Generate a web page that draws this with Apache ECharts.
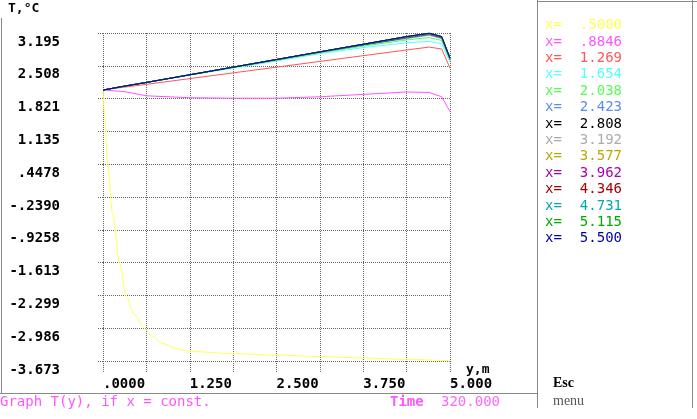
<!DOCTYPE html>
<html>
<head>
<meta charset="utf-8">
<script src="https://cdn.jsdelivr.net/npm/echarts@6/dist/echarts.min.js"></script>
<style>
  html, body { margin: 0; padding: 0; background: #fff; }
  #chart { width: 697px; height: 419px; }
</style>
</head>
<body>
<div id="chart"></div>
<script>
// legend names (x values) and their colours
const xNames = ['.5000', '.8846', '1.269', '1.654', '2.038', '2.423', '2.808', '3.192', '3.577', '3.962', '4.346', '4.731', '5.115', '5.500'];
const lineColors = ['#ffff55', '#ff55ff', '#ff5555', '#55ffff', '#55ff55', '#5b8cf0', '#000000', '#aaaaaa', '#b8a800', '#aa00aa', '#aa0000', '#00aaaa', '#00aa00', '#0000aa'];

// axis tick labels
const xTickLabels = ['.0000', '1.250', '2.500', '3.750', '5.000'];
const yTickLabels = ['-3.673', '-2.986', '-2.299', '-1.613', '-.9258', '-.2390', '.4478', '1.135', '1.821', '2.508', '3.195'];

// x = .5000 needs finer y positions near the wall
const yFine = [0, 0.022, 0.065, 0.137, 0.238, 0.339, 0.45, 0.59, 0.7, 0.85, 1.06, 1.25, 1.875, 2.5, 3.125, 3.75, 4.375, 5.0];
const tX0500 = [2.00, 1.52, 0.47, -0.57, -1.62, -2.33, -2.70, -2.98, -3.15, -3.30, -3.42, -3.47, -3.52, -3.55, -3.58, -3.61, -3.64, -3.67];

// the other curves share these y positions
const yCoarse = [0, 0.3, 0.625, 1.25, 1.875, 2.5, 3.125, 3.75, 4.375, 4.7, 4.88, 5.0];
const tX0885 = [2.00, 1.97, 1.88, 1.84, 1.83, 1.83, 1.86, 1.91, 1.96, 1.95, 1.86, 1.55];
const tX1269 = [2.00, 2.06, 2.12, 2.24, 2.36, 2.48, 2.60, 2.72, 2.84, 2.90, 2.86, 2.46];
const tX1654 = [2.00, 2.08, 2.16, 2.31, 2.46, 2.61, 2.76, 2.89, 2.99, 3.02, 2.97, 2.58];
const tX2038 = [2.00, 2.08, 2.16, 2.32, 2.47, 2.62, 2.78, 2.92, 3.05, 3.10, 3.04, 2.62];
const tX2423 = [2.00, 2.08, 2.16, 2.32, 2.48, 2.63, 2.79, 2.94, 3.08, 3.15, 3.08, 2.64];
const tX2808 = [2.00, 2.08, 2.16, 2.32, 2.48, 2.64, 2.80, 2.95, 3.10, 3.17, 3.10, 2.66];
const tX3192 = [2.00, 2.08, 2.16, 2.32, 2.48, 2.64, 2.80, 2.96, 3.11, 3.18, 3.11, 2.66];
const tX3577 = [2.00, 2.08, 2.16, 2.32, 2.48, 2.64, 2.80, 2.96, 3.11, 3.18, 3.11, 2.66];
const tX3962 = [2.00, 2.08, 2.16, 2.32, 2.48, 2.64, 2.80, 2.96, 3.12, 3.19, 3.11, 2.67];
const tX4346 = [2.00, 2.08, 2.16, 2.32, 2.48, 2.64, 2.80, 2.96, 3.12, 3.19, 3.12, 2.67];
const tX4731 = [2.00, 2.08, 2.16, 2.32, 2.48, 2.64, 2.80, 2.96, 3.12, 3.19, 3.12, 2.67];
const tX5115 = [2.00, 2.08, 2.16, 2.32, 2.48, 2.64, 2.80, 2.96, 3.12, 3.19, 3.12, 2.67];
const tX5500 = [2.00, 2.08, 2.16, 2.32, 2.48, 2.64, 2.80, 2.96, 3.12, 3.19, 3.12, 2.67];

const coarseCurves = [tX0885, tX1269, tX1654, tX2038, tX2423, tX2808, tX3192, tX3577, tX3962, tX4346, tX4731, tX5115, tX5500];

const yMin = -3.673, yMax = 3.195, yStep = 0.6868;
const xMin = 0, xMax = 5, xStep = 0.625;
const mono = '"DejaVu Sans Mono", "Liberation Mono", monospace';

const chart = echarts.init(document.getElementById('chart'), null, { renderer: 'canvas' });

const series = [{
  name: xNames[0], type: 'line', data: yFine.map((y, i) => [y, tX0500[i]]),
  showSymbol: false, smooth: 0.3, smoothMonotone: 'x',
  lineStyle: { width: 1, color: lineColors[0] }, itemStyle: { color: lineColors[0] },
}];
coarseCurves.forEach((arr, k) => {
  series.push({
    name: xNames[k + 1], type: 'line', data: yCoarse.map((y, i) => [y, arr[i]]),
    showSymbol: false, smooth: false,
    lineStyle: { width: 1, color: lineColors[k + 1] }, itemStyle: { color: lineColors[k + 1] },
  });
});

const dotted = { color: '#666', type: 'dotted', width: 1 };

chart.setOption({
  backgroundColor: '#ffffff',
  animation: false,
  grid: { left: 103, right: 247, top: 33, bottom: 58, containLabel: false, outerBoundsMode: 'none' },
  legend: {
    orient: 'vertical', left: 540, top: 17.5, padding: 0,
    icon: 'none', itemWidth: 0, itemHeight: 10, itemGap: 0.4,
    selectedMode: false,
    data: xNames.map((n, i) => ({ name: n, textStyle: { color: lineColors[i] } })),
    formatter: n => '{a|x=}{b|' + n + '}',
    textStyle: {
      fontFamily: mono, fontSize: 14, lineHeight: 16,
      rich: {
        a: { fontFamily: mono, fontSize: 14, lineHeight: 16, width: 17 },
        b: { fontFamily: mono, fontSize: 14, lineHeight: 16, width: 60, align: 'right' },
      },
    },
  },
  xAxis: {
    type: 'value', min: xMin, max: xMax, interval: xStep,
    name: 'y,m', nameLocation: 'end', nameGap: 16,
    nameTextStyle: { color: '#000', fontFamily: mono, fontWeight: 'bold', fontSize: 13, align: 'left', verticalAlign: 'top', padding: [2, 0, 0, 0] },
    axisLine: { show: false, onZero: false },
    axisTick: { show: true, length: 12, lineStyle: dotted },
    axisLabel: {
      color: '#000', fontFamily: mono, fontWeight: 'bold', fontSize: 14, margin: 16, align: 'left',
      formatter: v => { const i = Math.round((v - xMin) / xStep); return i % 2 === 0 ? xTickLabels[i / 2] : ''; },
    },
    splitLine: { show: true, lineStyle: dotted },
  },
  yAxis: {
    type: 'value', min: yMin, max: yMax, interval: yStep,
    axisLine: { show: false, onZero: false },
    axisTick: { show: true, length: 6, lineStyle: dotted },
    axisLabel: {
      color: '#000', fontFamily: mono, fontWeight: 'bold', fontSize: 14, margin: 43,
      verticalAlign: 'top', lineHeight: 18,
      formatter: v => yTickLabels[Math.round((v - yMin) / yStep)] || '',
    },
    splitLine: { show: true, lineStyle: dotted },
  },
  graphic: [
    { type: 'line', shape: { x1: 1.5, y1: 18, x2: 1.5, y2: 393 }, style: { stroke: '#888', lineWidth: 1 } },
    { type: 'line', shape: { x1: 0, y1: 393.5, x2: 538, y2: 393.5 }, style: { stroke: '#888', lineWidth: 1 } },
    { type: 'line', shape: { x1: 537.5, y1: 0, x2: 537.5, y2: 408 }, style: { stroke: '#888', lineWidth: 1 } },
    { type: 'line', shape: { x1: 537, y1: 1.5, x2: 697, y2: 1.5 }, style: { stroke: '#888', lineWidth: 1 } },
    { type: 'line', shape: { x1: 692.5, y1: 0, x2: 692.5, y2: 408 }, style: { stroke: '#888', lineWidth: 1 } },
    { type: 'text', left: 8, top: 2, style: { text: 'T,°C', fill: '#000', font: 'bold 13px ' + mono } },
    { type: 'text', left: 0, top: 395, style: { text: 'Graph T(y), if x = const.', fill: '#ff55ff', font: '14px ' + mono } },
    { type: 'text', left: 390, top: 395, style: { text: 'Time', fill: '#ff55ff', font: 'bold 14px ' + mono } },
    { type: 'text', left: 441, top: 395, style: { text: '320.000', fill: '#ff66ff', font: '14px ' + mono } },
    { type: 'text', left: 553, top: 376, style: { text: 'Esc', fill: '#000', font: 'bold 14px "Liberation Serif", serif' } },
    { type: 'text', left: 553, top: 394, style: { text: 'menu', fill: '#555', font: '14px "Liberation Serif", serif' } },
  ],
  series: series,
});
</script>
</body>
</html>
